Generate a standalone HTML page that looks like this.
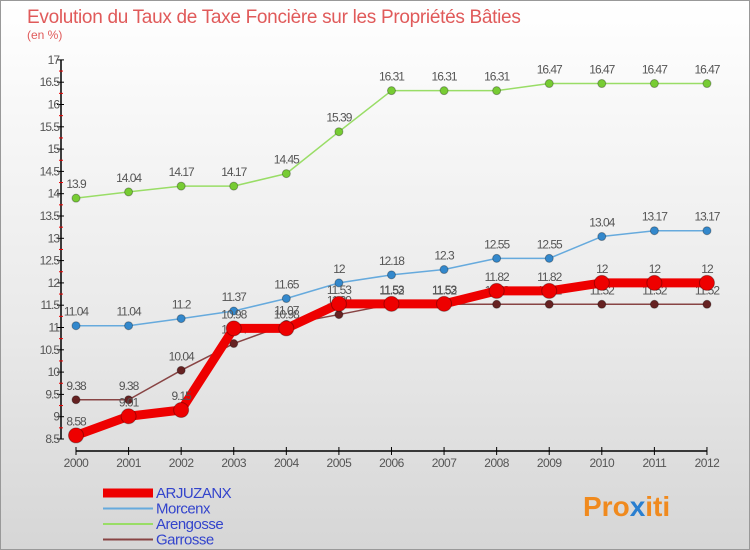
<!DOCTYPE html>
<html><head><meta charset="utf-8"><style>
body{margin:0;}
#wrap{position:relative;width:750px;height:550px;overflow:hidden;background:linear-gradient(#fff 0%,#e9e9e9 60%,#d6d6d6 100%);font-family:"Liberation Sans",sans-serif;box-sizing:border-box;border:1px solid #999;}
</style></head><body>
<div id="wrap">
<svg id="svg" width="750" height="550" xmlns="http://www.w3.org/2000/svg">
<text x="26" y="22" font-size="19" fill="#e05a5a" letter-spacing="-0.3">Evolution du Taux de Taxe Foncière sur les Propriétés Bâties</text>
<text x="26" y="38" font-size="12" fill="#e05a5a">(en %)</text>
<g id="axes"></g><g id="series"></g><g id="legend"></g>
<text x="582" y="515" font-size="28" font-weight="bold" fill="#f08a1e">Pro<tspan fill="#2a7fd0">x</tspan>iti</text>
</svg>
</div>
<script>
const years=["2000","2001","2002","2003","2004","2005","2006","2007","2008","2009","2010","2011","2012"];
const yTicks=[8.5,9,9.5,10,10.5,11,11.5,12,12.5,13,13.5,14,14.5,15,15.5,16,16.5,17];
const seriesNames=["ARJUZANX","Morcenx","Arengosse","Garrosse"];
const arjuzanx=[8.58,9.01,9.15,10.98,10.98,11.53,11.53,11.53,11.82,11.82,12,12,12];
const morcenx=[11.04,11.04,11.2,11.37,11.65,12,12.18,12.3,12.55,12.55,13.04,13.17,13.17];
const arengosse=[13.9,14.04,14.17,14.17,14.45,15.39,16.31,16.31,16.31,16.47,16.47,16.47,16.47];
const garrosse=[9.38,9.38,10.04,10.64,11.07,11.29,11.52,11.52,11.52,11.52,11.52,11.52,11.52];
const NS="http://www.w3.org/2000/svg";
const X=i=>75+i*52.58;
const Y=v=>438-(v-8.5)*44.6;
function mk(tag,attrs,parent){const e=document.createElementNS(NS,tag);for(const k in attrs)e.setAttribute(k,attrs[k]);parent.appendChild(e);return e;}
const axes=document.getElementById('axes');
let a=mk('line',{x1:60,y1:Y(17),x2:60,y2:Y(8.5),stroke:'#000','stroke-width':1.5},axes);


yTicks.forEach(v=>{
 let t=mk('line',{x1:56,y1:Y(v),x2:63,y2:Y(v),stroke:'#000'},axes);
 
 
 let m=mk('line',{x1:58,y1:Y(v+0.25),x2:62,y2:Y(v+0.25),stroke:'#e00'},axes);
 if(v===17)m.setAttribute('visibility','hidden');
 
 
 let l=mk('text',{x:58,y:Y(v)+4,'font-size':12,'text-anchor':'end',fill:'#555','letter-spacing':'-1'},axes);
 l.textContent=String(v);
 
 
});
a=mk('line',{x1:X(0),y1:450,x2:X(12),y2:450,stroke:'#000','stroke-width':1.5},axes);


years.forEach((y,i)=>{
 let t=mk('line',{x1:X(i),y1:446,x2:X(i),y2:454,stroke:'#000'},axes);
 
 
 let l=mk('text',{x:X(i),y:466,'font-size':12,'text-anchor':'middle',fill:'#555','letter-spacing':'-0.5'},axes);
 l.textContent=y;
 
 
});
const ser=document.getElementById('series');
const defs=[
 {d:arengosse,c:'#99dd66',dot:'#77cc33',w:1.5,r:4,n:'arengosse'},
 {d:morcenx,c:'#66aadd',dot:'#3388cc',w:1.5,r:4,n:'morcenx'},
 {d:garrosse,c:'#884444',dot:'#662222',w:1.5,r:4,n:'garrosse'},
 {d:arjuzanx,c:'#ee0000',dot:'#ee0000',w:9,r:7.5,n:'arjuzanx'}
];
defs.forEach(s=>{
 let p=mk('polyline',{points:s.d.map((v,i)=>X(i)+','+Y(v)).join(' '),fill:'none',stroke:s.c,'stroke-width':s.w,'stroke-linejoin':'round'},ser);
 
 
 s.d.forEach((v,i)=>{
  let c=mk('circle',{cx:X(i),cy:Y(v),r:s.r,fill:s.dot,stroke:'rgba(0,0,0,0.3)'},ser);
  
  
  let t=mk('text',{x:X(i),y:Y(v)-10,'font-size':12,'text-anchor':'middle',fill:'#555','letter-spacing':'-1'},ser);
  t.textContent=String(v);
  
  
 });
});
const leg=document.getElementById('legend');
const legC=['#ee0000','#66aadd','#99dd66','#884444'];
const legW=[9,2,2,2];
seriesNames.forEach((n,i)=>{
 const y=492+i*15.5;
 let l=mk('line',{x1:102,y1:y,x2:152,y2:y,stroke:legC[i],'stroke-width':legW[i]},leg);
 
 
 let t=mk('text',{x:155,y:y+5,'font-size':15,fill:'#3344cc','letter-spacing':'-0.5'},leg);
 t.textContent=n;
 
 
});
</script>
</body></html>
